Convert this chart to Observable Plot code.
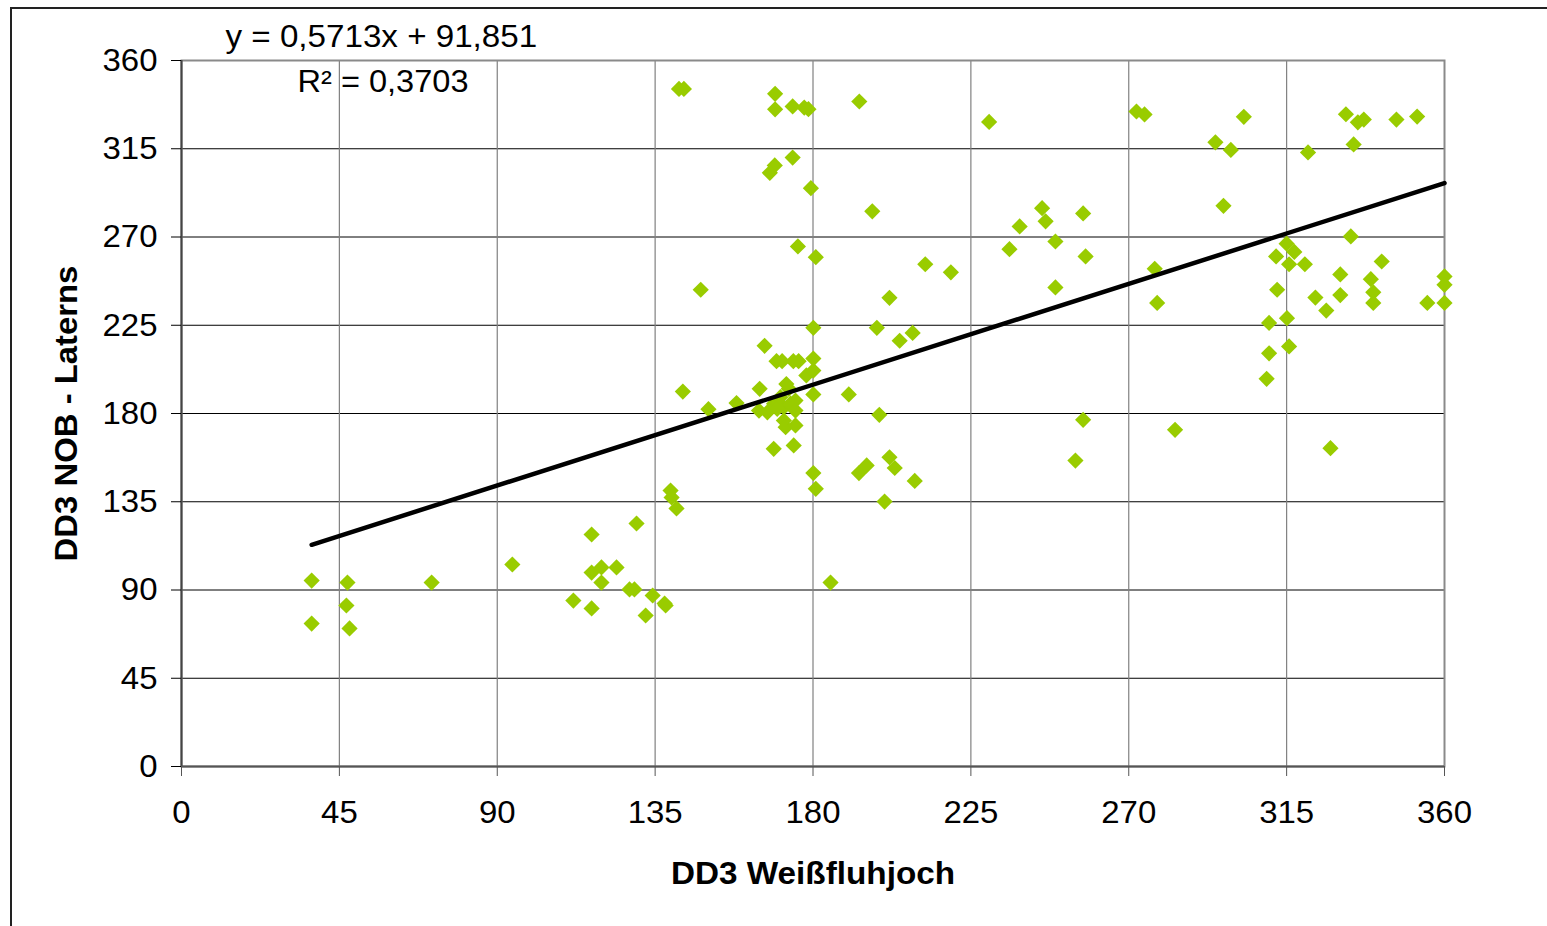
<!DOCTYPE html>
<html>
<head>
<meta charset="utf-8">
<script src="https://cdn.jsdelivr.net/npm/d3@7"></script>
<script src="https://cdn.jsdelivr.net/npm/@observablehq/plot@0.6"></script>
<style>
  html, body { margin: 0; padding: 0; background: #fff; overflow: hidden; }
  #wrap { position: relative; width: 1547px; height: 926px; }
  #frame { position: absolute; left: 10px; top: 7px; width: 1600px; height: 1000px;
           border: 2px solid #222; pointer-events: none; box-sizing: border-box; }
</style>
</head>
<body>
<div id="wrap"><div id="chart"></div><div id="frame"></div></div>
<script>
// DD3 Weißfluhjoch (x) vs DD3 NOB - Laterns (y), wind directions in degrees
const ddWeiss = [
  37.1, 37.1, 47.3, 47.0, 47.9, 71.3, 94.3, 111.7, 116.9, 116.9, 116.9, 119.7, 119.7, 124.0, 127.7, 129.1, 129.7, 132.3, 134.3, 137.7, 138.0, 139.4, 139.7, 141.1,
  141.8, 143.2, 169.2, 169.2, 174.2, 177.5, 178.7, 193.2, 174.2, 169.1, 167.7, 179.4, 196.9, 175.7, 180.8, 212.0, 219.3, 201.8, 148.0,
  142.9, 150.2, 158.2, 166.2, 164.8, 180.1, 180.1, 169.6, 171.2, 174.4, 175.9, 178.1, 180.1, 180.1, 190.2, 198.9, 198.2, 204.7, 208.4,
  172.4, 173.1, 175.0, 164.6, 167.0, 168.9, 171.7, 173.6, 175.0, 169.8, 171.7, 172.2, 175.0, 174.5, 168.8, 170.7,
  180.8, 180.1, 193.1, 195.3, 201.8, 203.3, 209.0, 200.4, 185.0,
  230.2, 272.2, 274.5, 302.8, 294.7, 299.1, 297.0, 245.3, 246.3, 238.9, 257.0, 236.0, 249.1, 257.7, 249.1, 277.4, 278.1, 257.0, 254.8, 283.2,
  312.0, 312.3, 310.0, 310.0, 309.3,
  331.9, 335.3, 337.0, 346.3, 352.2, 334.1, 321.1, 333.3, 315.0, 317.2, 315.7, 320.2, 330.3, 342.1, 339.0, 339.7, 339.7, 330.3, 323.2, 326.3, 315.1, 315.7, 327.5,
  360, 360, 360, 355.1
];
const ddLaterns = [
  94.8, 72.9, 93.8, 82.1, 70.4, 93.8, 103.0, 84.6, 118.3, 98.9, 80.6, 101.5, 93.8, 101.5, 90.3, 90.3, 123.9, 77.0, 87.2, 83.1, 82.1, 140.7, 137.2, 131.6,
  345.5, 345.5, 343.0, 335.1, 336.6, 336.0, 335.2, 339.1, 310.5, 306.5, 302.7, 294.9, 283.1, 265.2, 259.7, 256.1, 252.0, 239.0, 243.1,
  191.2, 182.2, 185.3, 214.5, 192.6, 223.7, 208.0, 206.7, 206.7, 206.7, 206.7, 199.4, 201.9, 189.7, 189.7, 179.3, 223.7, 217.1, 221.1,
  195.0, 192.6, 186.6, 181.5, 180.6, 185.0, 183.2, 185.0, 181.5, 182.4, 176.4, 173.0, 173.9, 163.7, 162.0, 188.3,
  141.6, 149.6, 149.6, 153.5, 157.7, 152.2, 145.6, 135.1, 93.8,
  328.7, 334.0, 332.5, 331.3, 318.3, 314.4, 285.9, 284.7, 278.0, 275.4, 282.0, 263.8, 267.7, 260.1, 244.3, 253.8, 236.4, 176.8, 156.0, 171.7,
  260.1, 243.1, 226.2, 210.7, 197.7,
  332.6, 328.5, 329.9, 329.9, 331.4, 317.2, 313.1, 270.3, 266.6, 262.4, 256.1, 256.1, 250.9, 257.5, 248.5, 241.8, 236.4, 240.4, 239.1, 232.5, 228.6, 214.2, 162.3,
  249.9, 245.6, 236.4, 236.4
];
const trendSlope = 0.5713;
const trendIntercept = 91.851;
const trendR2 = "0,3703";
const xTicks = [0, 45, 90, 135, 180, 225, 270, 315, 360];
const yTicks = [0, 45, 90, 135, 180, 225, 270, 315, 360];
const xLabel = "DD3 Weißfluhjoch";
const yLabel = "DD3 NOB - Laterns";

const points = ddWeiss.map((x, i) => ({x, y: ddLaterns[i]}));
const trend = d3.extent(ddWeiss).map(x => ({x, y: trendSlope * x + trendIntercept}));
const fmt = v => String(v).replace(".", ",");
const eqText = `y = ${fmt(trendSlope)}x + ${fmt(trendIntercept)}`;
const r2Text = `R² = ${trendR2}`;

const plot = Plot.plot({
  width: 1547,
  height: 926,
  marginLeft: 181,
  marginRight: 103,
  marginTop: 60,
  marginBottom: 160,
  style: {fontFamily: "'Liberation Sans', Arial, sans-serif", fontSize: "32px", color: "#000", background: "transparent"},
  x: {domain: [0, 360]},
  y: {domain: [0, 360]},
  marks: [
    Plot.gridY(yTicks.slice(1, -1), {stroke: "#000", strokeOpacity: 1, strokeWidth: 1}),
    Plot.gridX(xTicks.slice(1, -1), {stroke: "#808080", strokeOpacity: 1, strokeWidth: 1.2}),
    Plot.frame({stroke: "#8a8a8a", strokeWidth: 2}),
    Plot.ruleX([0], {stroke: "#444", strokeWidth: 2}),
    Plot.ruleY([0], {stroke: "#555", strokeWidth: 2}),
    Plot.axisY({ticks: yTicks, tickSize: 10, tickPadding: 14, label: null}),
    Plot.axisX({ticks: xTicks, tickSize: 10, tickPadding: 24, label: null, stroke: "#555"}),
    Plot.dot(points, {x: "x", y: "y", symbol: "diamond2", r: 7.3, fill: "#99cc00", stroke: null}),
    Plot.line(trend, {x: "x", y: "y", stroke: "#000", strokeWidth: 4.5}),
    Plot.text([eqText], {text: d => d, frameAnchor: "top-left", textAnchor: "start", lineAnchor: "middle", dx: 44, dy: -23.5, fontSize: 31}),
    Plot.text([r2Text], {text: d => d, frameAnchor: "top-left", textAnchor: "start", lineAnchor: "middle", dx: 116, dy: 22, fontSize: 31}),
    Plot.text([xLabel], {text: d => d, frameAnchor: "bottom", textAnchor: "middle", lineAnchor: "middle", dy: 107, fontSize: 32, fontWeight: "bold"}),
    Plot.text([yLabel], {text: d => d, frameAnchor: "left", textAnchor: "middle", lineAnchor: "middle", dx: -114, rotate: -90, fontSize: 31, fontWeight: "bold"})
  ]
});
document.getElementById("chart").append(plot);

// match the reference's slightly wider text advance
function stretch(t, k) {
  const L = t.getComputedTextLength();
  t.setAttribute("textLength", L * k);
  t.setAttribute("lengthAdjust", "spacingAndGlyphs");
}
plot.querySelectorAll('g[aria-label$="tick label"] text').forEach(t => stretch(t, 1.03));
const factors = [1.07, 1.05, 1.04, 1.06];
plot.querySelectorAll('g[aria-label="text"] text').forEach((t, i) => stretch(t, factors[i] ?? 1.04));
</script>
</body>
</html>
